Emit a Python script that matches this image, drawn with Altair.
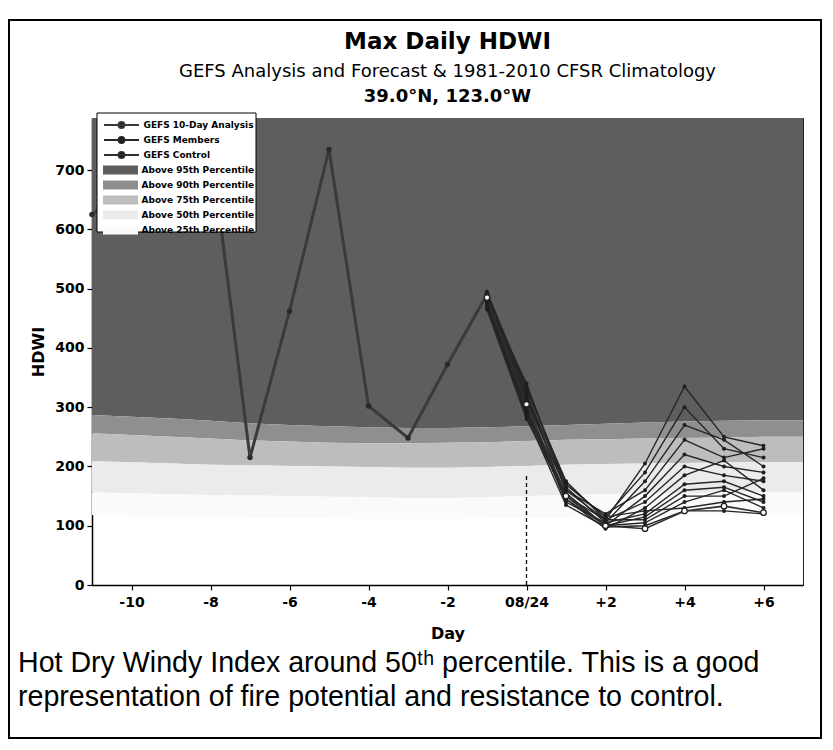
import altair as alt
import pandas as pd

# ---------------- data ----------------
# climatology percentiles per day (day 0 = 08/24)
CLIM_DAYS = list(range(-11, 8))
P95 = [287, 284, 281, 277, 273, 270, 268, 266, 265, 265, 266, 268, 270, 272, 274, 276, 277, 278, 278]
P90 = [256, 253, 250, 247, 244, 242, 240, 239, 239, 240, 241, 243, 245, 246, 247, 248, 249, 250, 250]
P75 = [209, 207, 205, 203, 202, 201, 200, 199, 198, 198, 199, 201, 203, 204, 205, 206, 207, 207, 207]
P50 = [156, 155, 153, 152, 151, 150, 149, 148, 147, 147, 148, 150, 152, 153, 154, 155, 156, 157, 157]
P25 = [118, 117, 116, 115, 114, 113, 112, 111, 111, 111, 112, 113, 114, 115, 116, 117, 118, 118, 118]
Y_MAX = 788

BAND_NAMES = ["Above 95th Percentile", "Above 90th Percentile", "Above 75th Percentile",
              "Above 50th Percentile", "Above 25th Percentile"]
BAND_COLORS = ["#5e5e5e", "#8f8f8f", "#bdbdbd", "#ebebeb", "#fafafa"]

# GEFS 10-day analysis
ANA_DAYS = [-11, -10, -9, -8, -7, -6, -5, -4, -3, -2, -1]
ANA_VALS = [625, 680, 715, 745, 215, 462, 735, 302, 248, 372, 490]

# GEFS members and control (days -1 .. +6)
FC_DAYS = [-1, 0, 1, 2, 3, 4, 5, 6]
MEMBERS = [
    [495, 330, 175, 110, 205, 335, 250, 235],
    [490, 320, 170, 115, 190, 300, 230, 215],
    [485, 310, 165, 105, 175, 270, 245, 200],
    [480, 340, 160, 120, 160, 245, 215, 230],
    [475, 295, 155, 100, 150, 220, 200, 190],
    [470, 290, 150, 110, 140, 200, 185, 175],
    [488, 325, 145, 95, 130, 185, 210, 160],
    [478, 300, 140, 105, 120, 170, 175, 150],
    [465, 280, 150, 100, 115, 160, 165, 140],
    [482, 315, 160, 110, 110, 150, 150, 180],
    [472, 290, 145, 100, 105, 140, 160, 130],
    [492, 335, 170, 115, 125, 130, 140, 145],
    [468, 285, 135, 98, 100, 125, 125, 120],
]
CONTROL = [485, 305, 150, 100, 95, 125, 133, 122]

LINE_NAMES = ["GEFS 10-Day Analysis", "GEFS Members", "GEFS Control"]
LINE_COLORS = ["#3a3a3a", "#262626", "#2e2e2e"]

INIT_RULE = [0, 0, 188]  # day, from, to (dashed init marker)

X_TICKS = [-10, -8, -6, -4, -2, 0, 2, 4, 6]
Y_TICKS = [0, 100, 200, 300, 400, 500, 600, 700]

TITLE = "Max Daily HDWI"
SUBTITLE = "GEFS Analysis and Forecast & 1981-2010 CFSR Climatology"
LOCATION = "39.0°N, 123.0°W"
CAPTION = ["Hot Dry Windy Index around 50ᵗʰ percentile. This is a good",
           "representation of fire potential and resistance to control."]

# ---------------- tables ----------------
bounds = [P95, P90, P75, P50, P25]
upper = [[Y_MAX] * len(CLIM_DAYS), P95, P90, P75, P50]
band_rows = []
for b, name in enumerate(BAND_NAMES):
    for i, d in enumerate(CLIM_DAYS):
        band_rows.append({"day": d, "band": name, "lo": bounds[b][i], "hi": upper[b][i], "ord": b})
bands_df = pd.DataFrame(band_rows)

line_rows = []
for d, v in zip(ANA_DAYS, ANA_VALS):
    line_rows.append({"series": LINE_NAMES[0], "run": "ana", "day": d, "value": v})
for m, vals in enumerate(MEMBERS):
    for d, v in zip(FC_DAYS, vals):
        line_rows.append({"series": LINE_NAMES[1], "run": f"m{m:02d}", "day": d, "value": v})
for d, v in zip(FC_DAYS, CONTROL):
    line_rows.append({"series": LINE_NAMES[2], "run": "ctl", "day": d, "value": v})
lines_df = pd.DataFrame(line_rows)
ana_df = lines_df[lines_df.series == LINE_NAMES[0]]
mem_df = lines_df[lines_df.series == LINE_NAMES[1]]
ctl_df = lines_df[lines_df.series == LINE_NAMES[2]]

rule_df = pd.DataFrame({"day": [INIT_RULE[0]], "lo": [INIT_RULE[1]], "hi": [INIT_RULE[2]]})

# ---------------- scales / axes ----------------
xscale = alt.Scale(domain=[-11, 7], nice=False, zero=False)
yscale = alt.Scale(domain=[0, Y_MAX], nice=False)

x_axis = alt.Axis(values=X_TICKS, title="Day", grid=False,
                  labelExpr="datum.value == 0 ? '08/24' : (datum.value > 0 ? '+' + datum.value : '' + datum.value)",
                  labelPadding=5, titlePadding=16)
y_axis = alt.Axis(values=Y_TICKS, title="HDWI", grid=False, labelPadding=3, titlePadding=8)

LINE_SYM = "M-3.5,0L3.5,0M-0.6,0A0.6,0.6,0,1,0,0.6,0A0.6,0.6,0,1,0,-0.6,0"
RECT_SYM = "M-3.5,-0.9L3.5,-0.9L3.5,0.9L-3.5,0.9Z"

common_leg = dict(orient="none", title=None, padding=0, symbolSize=100, symbolOffset=12.5,
                  labelOffset=16, labelFont="DejaVu Sans", labelFontSize=9,
                  labelFontWeight="bold", labelColor="black", labelLimit=113, legendX=11)

line_legend = alt.Legend(symbolType=LINE_SYM, legendY=1, symbolStrokeWidth=1.8, rowPadding=1,
                         symbolFillColor="#111", symbolStrokeColor="#111", **common_leg)
stroke_scale = alt.Scale(domain=LINE_NAMES, range=LINE_COLORS)

bands = alt.Chart(bands_df).mark_area(opacity=1, interpolate="linear").encode(
    x=alt.X("day:Q", scale=xscale, axis=x_axis),
    y=alt.Y("lo:Q", scale=yscale, axis=y_axis),
    y2="hi:Q",
    fill=alt.Fill("band:N", scale=alt.Scale(domain=BAND_NAMES, range=BAND_COLORS),
                  legend=alt.Legend(symbolType=RECT_SYM, legendY=47, symbolStrokeWidth=0,
                                    rowPadding=5, **common_leg)),
    order="ord:Q",
)

rule = alt.Chart(rule_df).mark_rule(color="black", strokeDash=[4, 3], strokeWidth=1.3).encode(
    x="day:Q", y="lo:Q", y2="hi:Q")

ana_line = alt.Chart(ana_df).mark_line(strokeWidth=3).encode(
    x="day:Q", y="value:Q", stroke=alt.Stroke("series:N", scale=stroke_scale, legend=line_legend))
mem_line = alt.Chart(mem_df).mark_line(strokeWidth=1.4).encode(
    x="day:Q", y="value:Q", detail="run:N",
    stroke=alt.Stroke("series:N", scale=stroke_scale, legend=line_legend))
ctl_line = alt.Chart(ctl_df).mark_line(strokeWidth=1.6).encode(
    x="day:Q", y="value:Q", stroke=alt.Stroke("series:N", scale=stroke_scale, legend=line_legend))

ana_pts = alt.Chart(ana_df).mark_point(
    filled=True, color="#2a2a2a", size=30, opacity=1).encode(x="day:Q", y="value:Q")
mem_pts = alt.Chart(mem_df).mark_point(
    filled=True, color="#1e1e1e", size=16, opacity=1).encode(x="day:Q", y="value:Q")
ctl_pts = alt.Chart(ctl_df).mark_point(
    filled=True, fill="white", stroke="#222", strokeWidth=1.3, size=30, opacity=1).encode(
    x="day:Q", y="value:Q")

legend_box = alt.Chart(pd.DataFrame({"k": [0]})).mark_rect(
    fill="white", stroke="black", strokeWidth=1).encode(
    x=alt.value(5), x2=alt.value(164), y=alt.value(-5), y2=alt.value(114))

def text_layer(txt, x, y, **kw):
    return alt.Chart(pd.DataFrame({"t": [txt]})).mark_text(
        color="black", baseline="middle", **kw).encode(
        text="t:N", x=alt.value(x), y=alt.value(y))

title_t = text_layer(TITLE, 355.5, -76, font="DejaVu Sans", fontWeight="bold", fontSize=23, align="center")
sub_t = text_layer(SUBTITLE, 355.5, -46, font="DejaVu Sans", fontSize=18, align="center")
loc_t = text_layer(LOCATION, 355.5, -21, font="DejaVu Sans", fontWeight="bold", fontSize=18, align="center")
cap1 = text_layer(CAPTION[0], -74, 545, font="Liberation Sans", fontSize=28.6, align="left")
cap2 = text_layer(CAPTION[1], -74, 579, font="Liberation Sans", fontSize=28.6, align="left")

frame = alt.Chart(pd.DataFrame({"k": [0]})).mark_rect(
    fillOpacity=0, stroke="black", strokeWidth=2).encode(
    x=alt.value(-83), x2=alt.value(729), y=alt.value(-98), y2=alt.value(620))

chart = alt.layer(
    bands, rule, ana_line, mem_line, ctl_line, ana_pts, mem_pts, ctl_pts, legend_box,
    title_t, sub_t, loc_t, cap1, cap2, frame
).properties(
    width=711, height=467,
    autosize=alt.AutoSizeParams(type="none"),
    padding={"left": 84, "top": 110, "right": 22, "bottom": 154},
).configure_view(
    stroke="#222", strokeWidth=1
).configure_axis(
    labelFont="DejaVu Sans", labelFontWeight="bold", labelFontSize=14, labelColor="black",
    titleFont="DejaVu Sans", titleFontWeight="bold", titleFontSize=16, titleColor="black",
    domainColor="black", domainWidth=1.5, tickColor="black", tickSize=5, tickWidth=1.2,
)

chart.save("out.html", embed_options={"renderer": "svg", "actions": False})
